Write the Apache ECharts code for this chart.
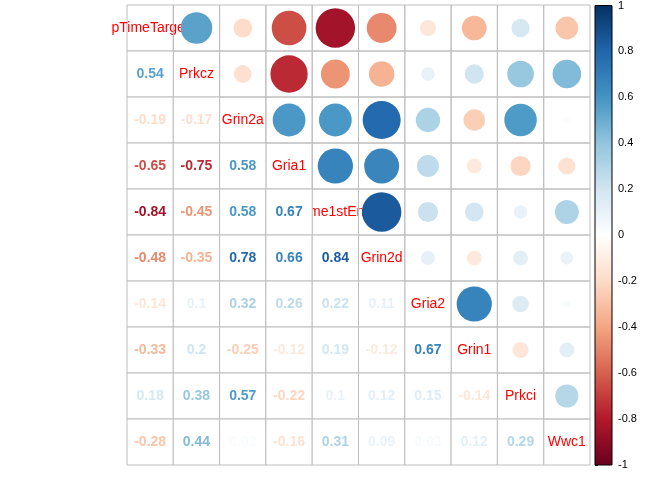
<!DOCTYPE html>
<html><head><meta charset="utf-8">
<script src="https://cdn.jsdelivr.net/npm/echarts@6/dist/echarts.min.js"></script>
<style>html,body{margin:0;background:#fff}#c{width:672px;height:480px}</style>
</head><body><div id="c"></div>
<script>
const names = ['pTimeTarget','Prkcz','Grin2a','Gria1','Time1stEntr','Grin2d','Gria2','Grin1','Prkci','Wwc1'];
// lower triangle, row by row
const lower = [
  [],
  [0.54],
  [-0.19,-0.17],
  [-0.65,-0.75,0.58],
  [-0.84,-0.45,0.58,0.67],
  [-0.48,-0.35,0.78,0.66,0.84],
  [-0.14,0.1,0.32,0.26,0.22,0.11],
  [-0.33,0.2,-0.25,-0.12,0.19,-0.12,0.67],
  [0.18,0.38,0.57,-0.22,0.1,0.12,0.15,-0.14],
  [-0.28,0.44,0.02,-0.16,0.31,0.09,0.03,0.12,0.29]
];
const barTicks = [-1,-0.8,-0.6,-0.4,-0.2,0,0.2,0.4,0.6,0.8,1];
const palette = ['#67001F','#B2182B','#D6604D','#F4A582','#FDDBC7','#FFFFFF','#D1E5F0','#92C5DE','#4393C3','#2166AC','#053061'];

function hex(c){return [1,3,5].map(i=>parseInt(c.substr(i,2),16));}
function colorOf(v){
  const t=(v+1)/2*10, i=Math.min(9,Math.floor(t)), f=t-i;
  const a=hex(palette[i]), b=hex(palette[i+1]);
  return 'rgb('+a.map((x,k)=>Math.round(x+(b[k]-x)*f)).join(',')+')';
}

const cells=[];
for(let i=0;i<10;i++)for(let j=0;j<10;j++){
  let v = i===j?1:(i>j?lower[i][j]:lower[j][i]);
  cells.push([j,i,v]);
}
// diagonal first so lower cells cover overflowing names
cells.sort((a,b)=>(a[0]===a[1]?0:1)-(b[0]===b[1]?0:1));

const chart=echarts.init(document.getElementById('c'));
chart.setOption({
  animation:false,
  grid:[{left:127,top:5,width:463,height:460},{left:595,top:5,width:17,height:460}],
  xAxis:[{type:'category',data:names,show:false,gridIndex:0},
         {type:'value',show:false,gridIndex:1,min:0,max:1}],
  yAxis:[{type:'category',data:names,inverse:true,show:false,gridIndex:0},
         {type:'value',gridIndex:1,min:-1,max:1,interval:0.2,position:'right',
          axisLine:{show:false},splitLine:{show:false},
          axisTick:{show:true,length:3,lineStyle:{color:'#000'}},
          axisLabel:{color:'#000',fontFamily:'Liberation Sans',fontSize:11,margin:6,
            formatter:v=>barTicks.find(t=>Math.abs(t-v)<1e-6)!==undefined?String(Math.round(v*10)/10):''}}],
  series:[{
    type:'custom',xAxisIndex:0,yAxisIndex:0,data:cells,
    renderItem:(p,api)=>{
      const x=api.value(0),y=api.value(1),v=api.value(2);
      const c=api.coord([x,y]),s=api.size([1,1]);
      const rect={type:'rect',shape:{x:c[0]-s[0]/2,y:c[1]-s[1]/2,width:s[0],height:s[1]},
        style:{fill:y>x?'#fff':'none',stroke:'#BEBEBE',lineWidth:1}};
      const kids=[rect];
      if(x===y){
        kids.push({type:'text',style:{text:names[x],x:c[0],y:c[1],align:'center',verticalAlign:'middle',
          fill:'#FF0000',font:'14px "Liberation Sans"'}});
      }else if(x>y){
        kids.push({type:'circle',shape:{cx:c[0],cy:c[1],r:Math.sqrt(Math.abs(v))*s[0]/2*0.93},
          style:{fill:colorOf(v)}});
      }else{
        kids.push({type:'text',style:{text:String(v),x:c[0],y:c[1],align:'center',verticalAlign:'middle',
          fill:colorOf(v),font:'bold 14px "Liberation Sans"'}});
      }
      return {type:'group',children:kids};
    }
  },{
    type:'custom',xAxisIndex:1,yAxisIndex:1,data:[[0,1]],
    renderItem:(p,api)=>{
      const a=api.coord([0,1]),b=api.coord([1,-1]);
      return {type:'rect',shape:{x:a[0],y:a[1],width:b[0]-a[0],height:b[1]-a[1]},
        style:{stroke:'#000',lineWidth:1,fill:new echarts.graphic.LinearGradient(0,0,0,1,
          palette.slice().reverse().map((c,i)=>({offset:i/10,color:c})))}};
    }
  }]
});
</script></body></html>
